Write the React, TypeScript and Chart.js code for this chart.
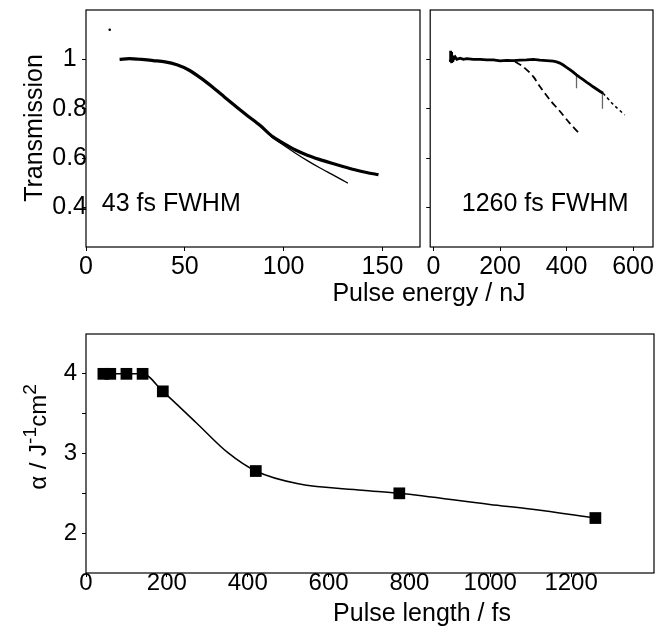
import React, { useEffect, useRef } from 'react';
import { Chart, registerables } from 'chart.js';

Chart.register(...registerables);

const FONT = "'Liberation Sans', Arial, Helvetica, sans-serif";

// ---------- Panel A: 43 fs FWHM ----------
const A_X_TICKS = [0, 50, 100, 150];
const A_Y_TICKS = [0.4, 0.6, 0.8, 1];
const A_DATA_X = [17, 22, 28, 34, 40, 46, 52, 58, 64, 70, 76, 82, 88, 94, 100, 106, 112, 118, 124, 130, 136, 142, 148];
const A_DATA_Y = [1.0, 1.003, 1.0, 0.995, 0.99, 0.978, 0.957, 0.925, 0.888, 0.848, 0.808, 0.77, 0.733, 0.69, 0.66, 0.633, 0.612, 0.595, 0.58, 0.566, 0.553, 0.542, 0.533];
const A_FIT_X = [20, 28, 34, 40, 46, 52, 58, 64, 70, 76, 82, 88, 94, 100, 106, 112, 118, 124, 130, 132.5];
const A_FIT_Y = [1.0, 0.999, 0.995, 0.99, 0.978, 0.957, 0.925, 0.888, 0.848, 0.808, 0.77, 0.731, 0.686, 0.652, 0.62, 0.59, 0.562, 0.536, 0.51, 0.499];
const A_STRAY_X = [12];
const A_STRAY_Y = [1.12];

// ---------- Panel B: 1260 fs FWHM ----------
const B_X_TICKS = [0, 200, 400, 600];
const B_Y_TICKS = [0.4, 0.6, 0.8, 1];
const B_DATA_X = [50, 51, 52, 53, 54, 55, 56, 58, 60, 65, 70, 80, 90, 100, 120, 140, 160, 180, 200, 220, 240, 260, 280, 300, 320, 340, 360, 370, 380, 390, 400, 410, 420, 430, 440, 450, 460, 470, 480, 490, 500, 510];
const B_DATA_Y = [1.0, 1.035, 0.99, 1.03, 0.985, 1.02, 0.995, 1.015, 1.0, 1.01, 1.0, 1.005, 1.0, 1.003, 1.0, 1.0, 0.998, 0.998, 0.994, 0.996, 0.995, 0.997, 0.998, 1.0, 0.997, 0.995, 0.993, 0.99, 0.985, 0.977, 0.968, 0.958, 0.948, 0.937, 0.927, 0.918, 0.908, 0.899, 0.889, 0.88, 0.871, 0.863];
const B_SPIKE_X = [430, 508];
const B_SPIKE_TOP = [0.937, 0.866];
const B_SPIKE_BOTTOM = [0.883, 0.8];
const B_DOT_X = [510, 540, 575];
const B_DOT_Y = [0.863, 0.818, 0.775];
const B_DASH_X = [245, 270, 300, 320, 350, 380, 410, 435];
const B_DASH_Y = [0.99, 0.97, 0.93, 0.89, 0.836, 0.79, 0.741, 0.705];

// ---------- Panel C: alpha vs pulse length ----------
const C_X_TICKS = [0, 200, 400, 600, 800, 1000, 1200];
const C_Y_TICKS = [2, 2.5, 3, 3.5, 4];
const C_PULSE_FS = [43, 60, 100, 140, 190, 420, 775, 1260];
const C_ALPHA = [4, 4, 4, 4, 3.78, 2.78, 2.5, 2.19];
const C_CURVE_X = [43, 60, 100, 140, 190, 272, 351, 420, 525, 683, 775, 999, 1104, 1260];
const C_CURVE_Y = [4, 4, 4, 4, 3.78, 3.39, 3.01, 2.78, 2.62, 2.54, 2.5, 2.36, 2.3, 2.19];

const zip = (xs: number[], ys: (number | null)[]) => xs.map((x, i) => ({ x, y: ys[i] }));

const framePlugin = {
  id: 'frame',
  afterDatasetsDraw(chart: any) {
    const { ctx, chartArea } = chart;
    const { left, top, right, bottom } = chartArea;
    ctx.save();
    ctx.strokeStyle = '#000';
    ctx.lineWidth = 1.2;
    ctx.strokeRect(left, top, right - left, bottom - top);
    ctx.restore();
  },
};

const panelTextPlugin = {
  id: 'panelText',
  afterDraw(chart: any, _args: any, opts: any) {
    if (!opts || !opts.text) return;
    const { ctx } = chart;
    const px = chart.scales.x.getPixelForValue(opts.x);
    const py = chart.scales.y.getPixelForValue(opts.y);
    ctx.save();
    ctx.font = `25px ${FONT}`;
    ctx.fillStyle = '#000';
    ctx.textAlign = 'left';
    ctx.textBaseline = 'middle';
    ctx.fillText(opts.text, px, py);
    ctx.restore();
  },
};

function setTicks(values: number[]) {
  return (s: any) => {
    s.ticks = values.map((v) => ({ value: v }));
  };
}

function baseX(min: number, max: number, ticks: number[], tickFont: number, pad: number, lh: number) {
  return {
    type: 'linear',
    min,
    max,
    afterBuildTicks: setTicks(ticks),
    afterFit: (s: any) => {
      s.height = 30;
    },
    grid: { drawOnChartArea: false, drawTicks: true, tickLength: 4, color: '#000', lineWidth: 1 },
    border: { display: false },
    ticks: {
      color: '#000',
      font: { family: FONT, size: tickFont, lineHeight: lh },
      padding: pad,
      maxRotation: 0,
      autoSkip: false,
      callback: (v: any) => String(v),
    },
  };
}

function makeA() {
  return {
    type: 'line',
    data: {
      datasets: [
        { data: zip(A_DATA_X, A_DATA_Y), borderColor: '#000', borderWidth: 3.2, pointRadius: 0, tension: 0.3 },
        { data: zip(A_FIT_X, A_FIT_Y), borderColor: '#000', borderWidth: 1.3, pointRadius: 0, tension: 0.3 },
        { data: zip(A_STRAY_X, A_STRAY_Y), showLine: false, pointRadius: 1.3, backgroundColor: '#000', borderWidth: 0 },
      ],
    },
    options: {
      animation: false,
      responsive: false,
      devicePixelRatio: 1,
      layout: { padding: { left: 0, top: 10, right: 5, bottom: 8 } },
      plugins: {
        legend: { display: false },
        tooltip: { enabled: false },
        panelText: { text: '43 fs FWHM', x: 8, y: 0.415 },
      },
      scales: {
        x: baseX(0, 169, A_X_TICKS, 25, 1.5, 1.2),
        y: {
          type: 'linear',
          min: 0.24,
          max: 1.2,
          afterBuildTicks: setTicks(A_Y_TICKS),
          afterFit: (s: any) => {
            s.width = 86;
          },
          grid: { drawOnChartArea: false, drawTicks: true, tickLength: 4, color: '#000' },
          border: { display: false },
          ticks: {
            color: '#000',
            font: { family: FONT, size: 25 },
            crossAlign: 'center',
            padding: -5,
            callback: (v: any) => String(v),
          },
        },
      },
    },
    plugins: [framePlugin, panelTextPlugin],
  };
}

function makeB() {
  const spikes: any[] = [];
  B_SPIKE_X.forEach((x, i) => {
    spikes.push({ x, y: B_SPIKE_TOP[i] });
    spikes.push({ x, y: B_SPIKE_BOTTOM[i] });
    spikes.push({ x, y: null });
  });
  return {
    type: 'line',
    data: {
      datasets: [
        { data: zip(B_DATA_X, B_DATA_Y), borderColor: '#000', borderWidth: 2.8, pointRadius: 0, tension: 0 },
        { data: spikes, borderColor: '#666', borderWidth: 1.3, pointRadius: 0, spanGaps: false },
        { data: zip(B_DOT_X, B_DOT_Y), borderColor: '#000', borderWidth: 1.6, pointRadius: 0, borderDash: [3, 3], tension: 0.2 },
        { data: zip(B_DASH_X, B_DASH_Y), borderColor: '#000', borderWidth: 1.8, pointRadius: 0, borderDash: [7, 4], tension: 0.3 },
      ],
    },
    options: {
      animation: false,
      responsive: false,
      devicePixelRatio: 1,
      layout: { padding: { left: 0, top: 10, right: 13, bottom: 8 } },
      plugins: {
        legend: { display: false },
        tooltip: { enabled: false },
        panelText: { text: '1260 fs FWHM', x: 85, y: 0.415 },
      },
      scales: {
        x: baseX(-10, 660, B_X_TICKS, 25, 1.5, 1.2),
        y: {
          type: 'linear',
          min: 0.24,
          max: 1.2,
          afterBuildTicks: setTicks(B_Y_TICKS),
          afterFit: (s: any) => {
            s.width = 5;
          },
          grid: { drawOnChartArea: false, drawTicks: true, tickLength: 4, color: '#000' },
          border: { display: false },
          ticks: { display: false },
        },
      },
    },
    plugins: [framePlugin, panelTextPlugin],
  };
}

function makeC() {
  return {
    type: 'line',
    data: {
      datasets: [
        {
          data: zip(C_CURVE_X, C_CURVE_Y),
          borderColor: '#000',
          borderWidth: 1.5,
          pointRadius: 0,
          cubicInterpolationMode: 'monotone',
        },
        {
          data: zip(C_PULSE_FS, C_ALPHA),
          showLine: false,
          pointStyle: 'rect',
          pointRadius: 8.3,
          backgroundColor: '#000',
          borderColor: '#000',
          borderWidth: 0,
        },
      ],
    },
    options: {
      animation: false,
      responsive: false,
      devicePixelRatio: 1,
      layout: { padding: { left: 0, top: 34, right: 12, bottom: 26 } },
      plugins: { legend: { display: false }, tooltip: { enabled: false } },
      scales: {
        x: baseX(0, 1405, C_X_TICKS, 24, -5.4, 1),
        y: {
          type: 'linear',
          min: 1.5,
          max: 4.5,
          afterBuildTicks: setTicks(C_Y_TICKS),
          afterFit: (s: any) => {
            s.width = 86;
          },
          grid: { drawOnChartArea: false, drawTicks: true, tickLength: 4, color: '#000' },
          border: { display: false },
          ticks: {
            color: '#000',
            font: { family: FONT, size: 24 },
            padding: 5,
            callback: (v: any) => (Number.isInteger(v) ? String(v) : ''),
          },
        },
      },
    },
    plugins: [framePlugin],
  };
}

function Panel(props: { left: number; top: number; width: number; height: number; make: () => any }) {
  const ref = useRef<HTMLCanvasElement | null>(null);
  useEffect(() => {
    if (!ref.current) return;
    const chart = new Chart(ref.current, props.make());
    return () => chart.destroy();
  }, []);
  return (
    <canvas
      ref={ref}
      width={props.width}
      height={props.height}
      style={{ position: 'absolute', left: props.left, top: props.top, width: props.width, height: props.height }}
    />
  );
}

const textBase: React.CSSProperties = {
  position: 'absolute',
  fontFamily: FONT,
  color: '#000',
  textAlign: 'center',
  whiteSpace: 'nowrap',
};

function Title(props: { cx: number; cy: number; size: number; rotate?: boolean; children: React.ReactNode }) {
  const w = 300;
  const h = 30;
  return (
    <div
      style={{
        ...textBase,
        left: props.cx - w / 2,
        top: props.cy - h / 2,
        width: w,
        height: h,
        lineHeight: `${h}px`,
        fontSize: props.size,
        transform: props.rotate ? 'rotate(-90deg)' : undefined,
      }}
    >
      {props.children}
    </div>
  );
}

export default function App() {
  const supStyle: React.CSSProperties = { fontSize: '0.8em', lineHeight: 0, verticalAlign: '0.5em' };
  return (
    <div style={{ position: 'absolute', left: 0, top: 0, width: 666, height: 629, background: '#fff', overflow: 'hidden' }}>
      <Panel left={0} top={0} width={425} height={285} make={makeA} />
      <Panel left={425} top={0} width={241} height={285} make={makeB} />
      <Panel left={0} top={300} width={666} height={329} make={makeC} />
      <Title cx={33} cy={128} size={25} rotate>
        Transmission
      </Title>
      <Title cx={429} cy={292} size={25}>
        Pulse energy / nJ
      </Title>
      <Title cx={422} cy={612} size={25}>
        Pulse length / fs
      </Title>
      <Title cx={37.5} cy={437} size={24} rotate>
        <span>
          α / J<span style={supStyle}>-1</span>cm<span style={supStyle}>2</span>
        </span>
      </Title>
    </div>
  );
}
